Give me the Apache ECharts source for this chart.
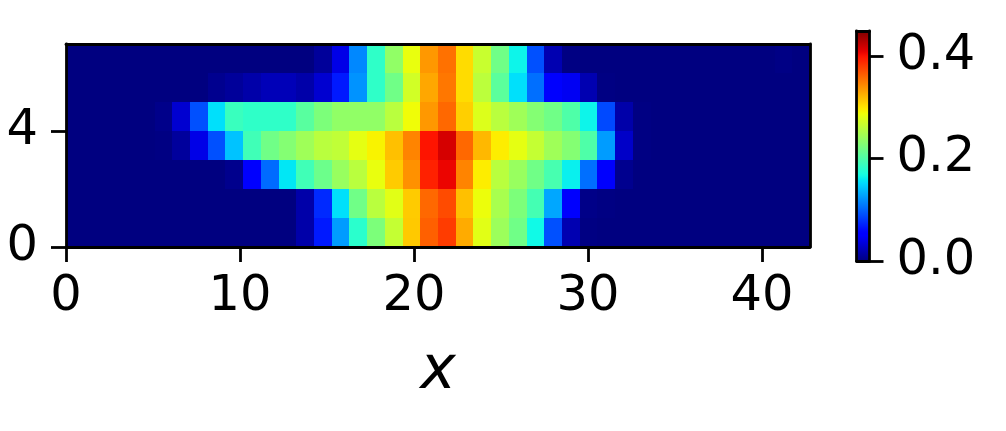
<!DOCTYPE html>
<html>
<head>
<meta charset="utf-8">
<style>html,body{margin:0;padding:0;background:#fff}#c{width:1006px;height:431px}</style>
<script src="https://cdn.jsdelivr.net/npm/echarts@6/dist/echarts.min.js"></script>
</head>
<body>
<div id="c"></div>
<script>
// values by row, keyed by column; unlisted columns are 0
const row6 = {14:.01,15:.04,16:.116,17:.183,18:.236,19:.284,20:.336,21:.355,22:.304,23:.266,24:.218,25:.164,26:.091,27:.019,28:.001,40:.002};
const row5 = {8:.006,9:.01,10:.016,11:.022,12:.022,13:.016,14:.031,15:.067,16:.121,17:.183,18:.218,19:.271,20:.329,21:.352,22:.304,23:.259,24:.207,25:.155,26:.105,27:.05,28:.045,29:.019,30:.001};
const row4 = {5:.004,6:.031,7:.091,8:.155,9:.188,10:.183,11:.183,12:.183,13:.205,14:.225,15:.236,16:.236,17:.236,18:.258,19:.288,20:.336,21:.359,22:.31,23:.277,24:.258,25:.244,26:.229,27:.218,28:.2,29:.164,30:.088,31:.016,32:.001};
const row3 = {5:.001,6:.011,7:.04,8:.091,9:.142,10:.192,11:.218,12:.229,13:.244,14:.258,15:.262,16:.282,17:.293,18:.317,19:.346,20:.399,21:.416,22:.359,23:.321,24:.296,25:.282,26:.264,27:.244,28:.229,29:.2,30:.125,31:.028,32:.001};
const row2 = {9:.005,10:.05,11:.103,12:.158,13:.192,14:.216,15:.24,16:.258,17:.284,18:.312,19:.34,20:.393,21:.407,22:.346,23:.296,24:.258,25:.24,26:.218,27:.196,28:.162,29:.105,30:.05,31:.006};
const row1 = {13:.016,14:.074,15:.155,16:.218,17:.258,18:.28,19:.312,20:.359,21:.373,22:.317,23:.286,24:.249,25:.225,26:.194,27:.13,28:.05,29:.003,30:.001};
const row0 = {13:.016,14:.067,15:.125,16:.18,17:.225,18:.264,19:.313,20:.363,21:.38,22:.327,23:.28,24:.242,25:.218,26:.166,27:.091,28:.019,29:.001};
const rows = [row0,row1,row2,row3,row4,row5,row6];
const columnCount = 42;
const xTicks = [0,10,20,30,40];
const yTicks = [0,4];
const colorbarTicks = [0,0.2,0.4];
const xLabel = 'x';
const colorMax = 0.449;
const xMax = 42.76, yMax = 7;

// matplotlib jet colormap segments
const seg = {
  r:[[0,0],[.35,0],[.66,1],[.89,1],[1,.5]],
  g:[[0,0],[.125,0],[.375,1],[.64,1],[.91,0],[1,0]],
  b:[[0,.5],[.11,1],[.34,1],[.65,0],[1,0]]
};
function ch(s,t){for(let i=1;i<s.length;i++){if(t<=s[i][0]){const a=s[i-1],b=s[i];return a[1]+(b[1]-a[1])*(t-a[0])/(b[0]-a[0]);}}return s[s.length-1][1];}
const jet=[];for(let i=0;i<=128;i++){const t=i/128;jet.push('rgb('+[seg.r,seg.g,seg.b].map(s=>Math.round(ch(s,t)*255)).join(',')+')');}

const cells=[];
rows.forEach((r,y)=>{for(let x=0;x<columnCount;x++){cells.push([x,y,r[x]||0]);}});
const catX=Array.from({length:columnCount},(_,i)=>i);
const catY=rows.map((_,i)=>i);

const FONT='DejaVu Sans', SIZE=49.5, LW=2.8;
const line={show:true,onZero:false,lineStyle:{color:'#000',width:LW}};
const off={show:false};
function frame(pos,grid,extra){return Object.assign({type:'value',gridIndex:grid,position:pos,z:10,min:0,max:1,axisLine:line,axisTick:off,axisLabel:off,splitLine:off},extra||{});}

function renderCell(params,api){
  const c=api.coord([api.value(0),api.value(1)]);
  const s=api.size([1,1]);
  const l=Math.round(c[0]-s[0]/2), r=Math.round(c[0]+s[0]/2);
  const t=Math.round(c[1]-s[1]/2), b=Math.round(c[1]+s[1]/2);
  return {type:'rect',shape:{x:l,y:t,width:r-l,height:b-t},style:{fill:api.visual('color')}};
}

const option={
  animation:false,
  backgroundColor:'#fff',
  textStyle:{fontFamily:FONT},
  grid:[
    {left:66,top:44,width:744,height:203},
    {left:856.5,top:31,width:13,height:230}
  ],
  xAxis:[
    {type:'category',gridIndex:0,data:catX,show:false},
    frame('bottom',0,{min:0,max:xMax,
      axisTick:{show:true,customValues:xTicks,length:15,lineStyle:{color:'#000',width:LW}},
      axisLabel:{show:true,customValues:xTicks,color:'#000',fontSize:SIZE,fontFamily:FONT,margin:25},
      name:xLabel,nameLocation:'middle',nameGap:95,
      nameTextStyle:{color:'#000',fontSize:60,fontStyle:'italic',fontFamily:FONT}}),
    frame('top',0),
    frame('bottom',1),
    frame('top',1)
  ],
  yAxis:[
    {type:'category',gridIndex:0,data:catY,show:false},
    frame('left',0,{min:0,max:yMax,
      axisTick:{show:true,customValues:yTicks,length:15,lineStyle:{color:'#000',width:LW}},
      axisLabel:{show:true,customValues:yTicks,color:'#000',fontSize:SIZE,fontFamily:FONT,margin:28,padding:[7,0,0,0]}}),
    frame('right',0),
    frame('left',1),
    frame('right',1,{min:0,max:colorMax,
      axisTick:{show:true,customValues:colorbarTicks,length:14,lineStyle:{color:'#000',width:LW}},
      axisLabel:{show:true,customValues:colorbarTicks,color:'#000',fontSize:SIZE,fontFamily:FONT,margin:27,padding:[7,0,0,0],formatter:v=>v.toFixed(1)}})
  ],
  visualMap:{
    type:'continuous',seriesIndex:0,dimension:2,min:0,max:colorMax,calculable:false,
    left:856.5,top:31,itemWidth:13,itemHeight:230,padding:0,text:null,showLabel:false,
    inRange:{color:jet},z:4
  },
  series:[{type:'custom',coordinateSystem:'cartesian2d',xAxisIndex:0,yAxisIndex:0,data:cells,encode:{x:0,y:1},renderItem:renderCell,silent:true,clip:true}]
};
echarts.init(document.getElementById('c'),null,{renderer:'canvas'}).setOption(option);
</script>
</body>
</html>
